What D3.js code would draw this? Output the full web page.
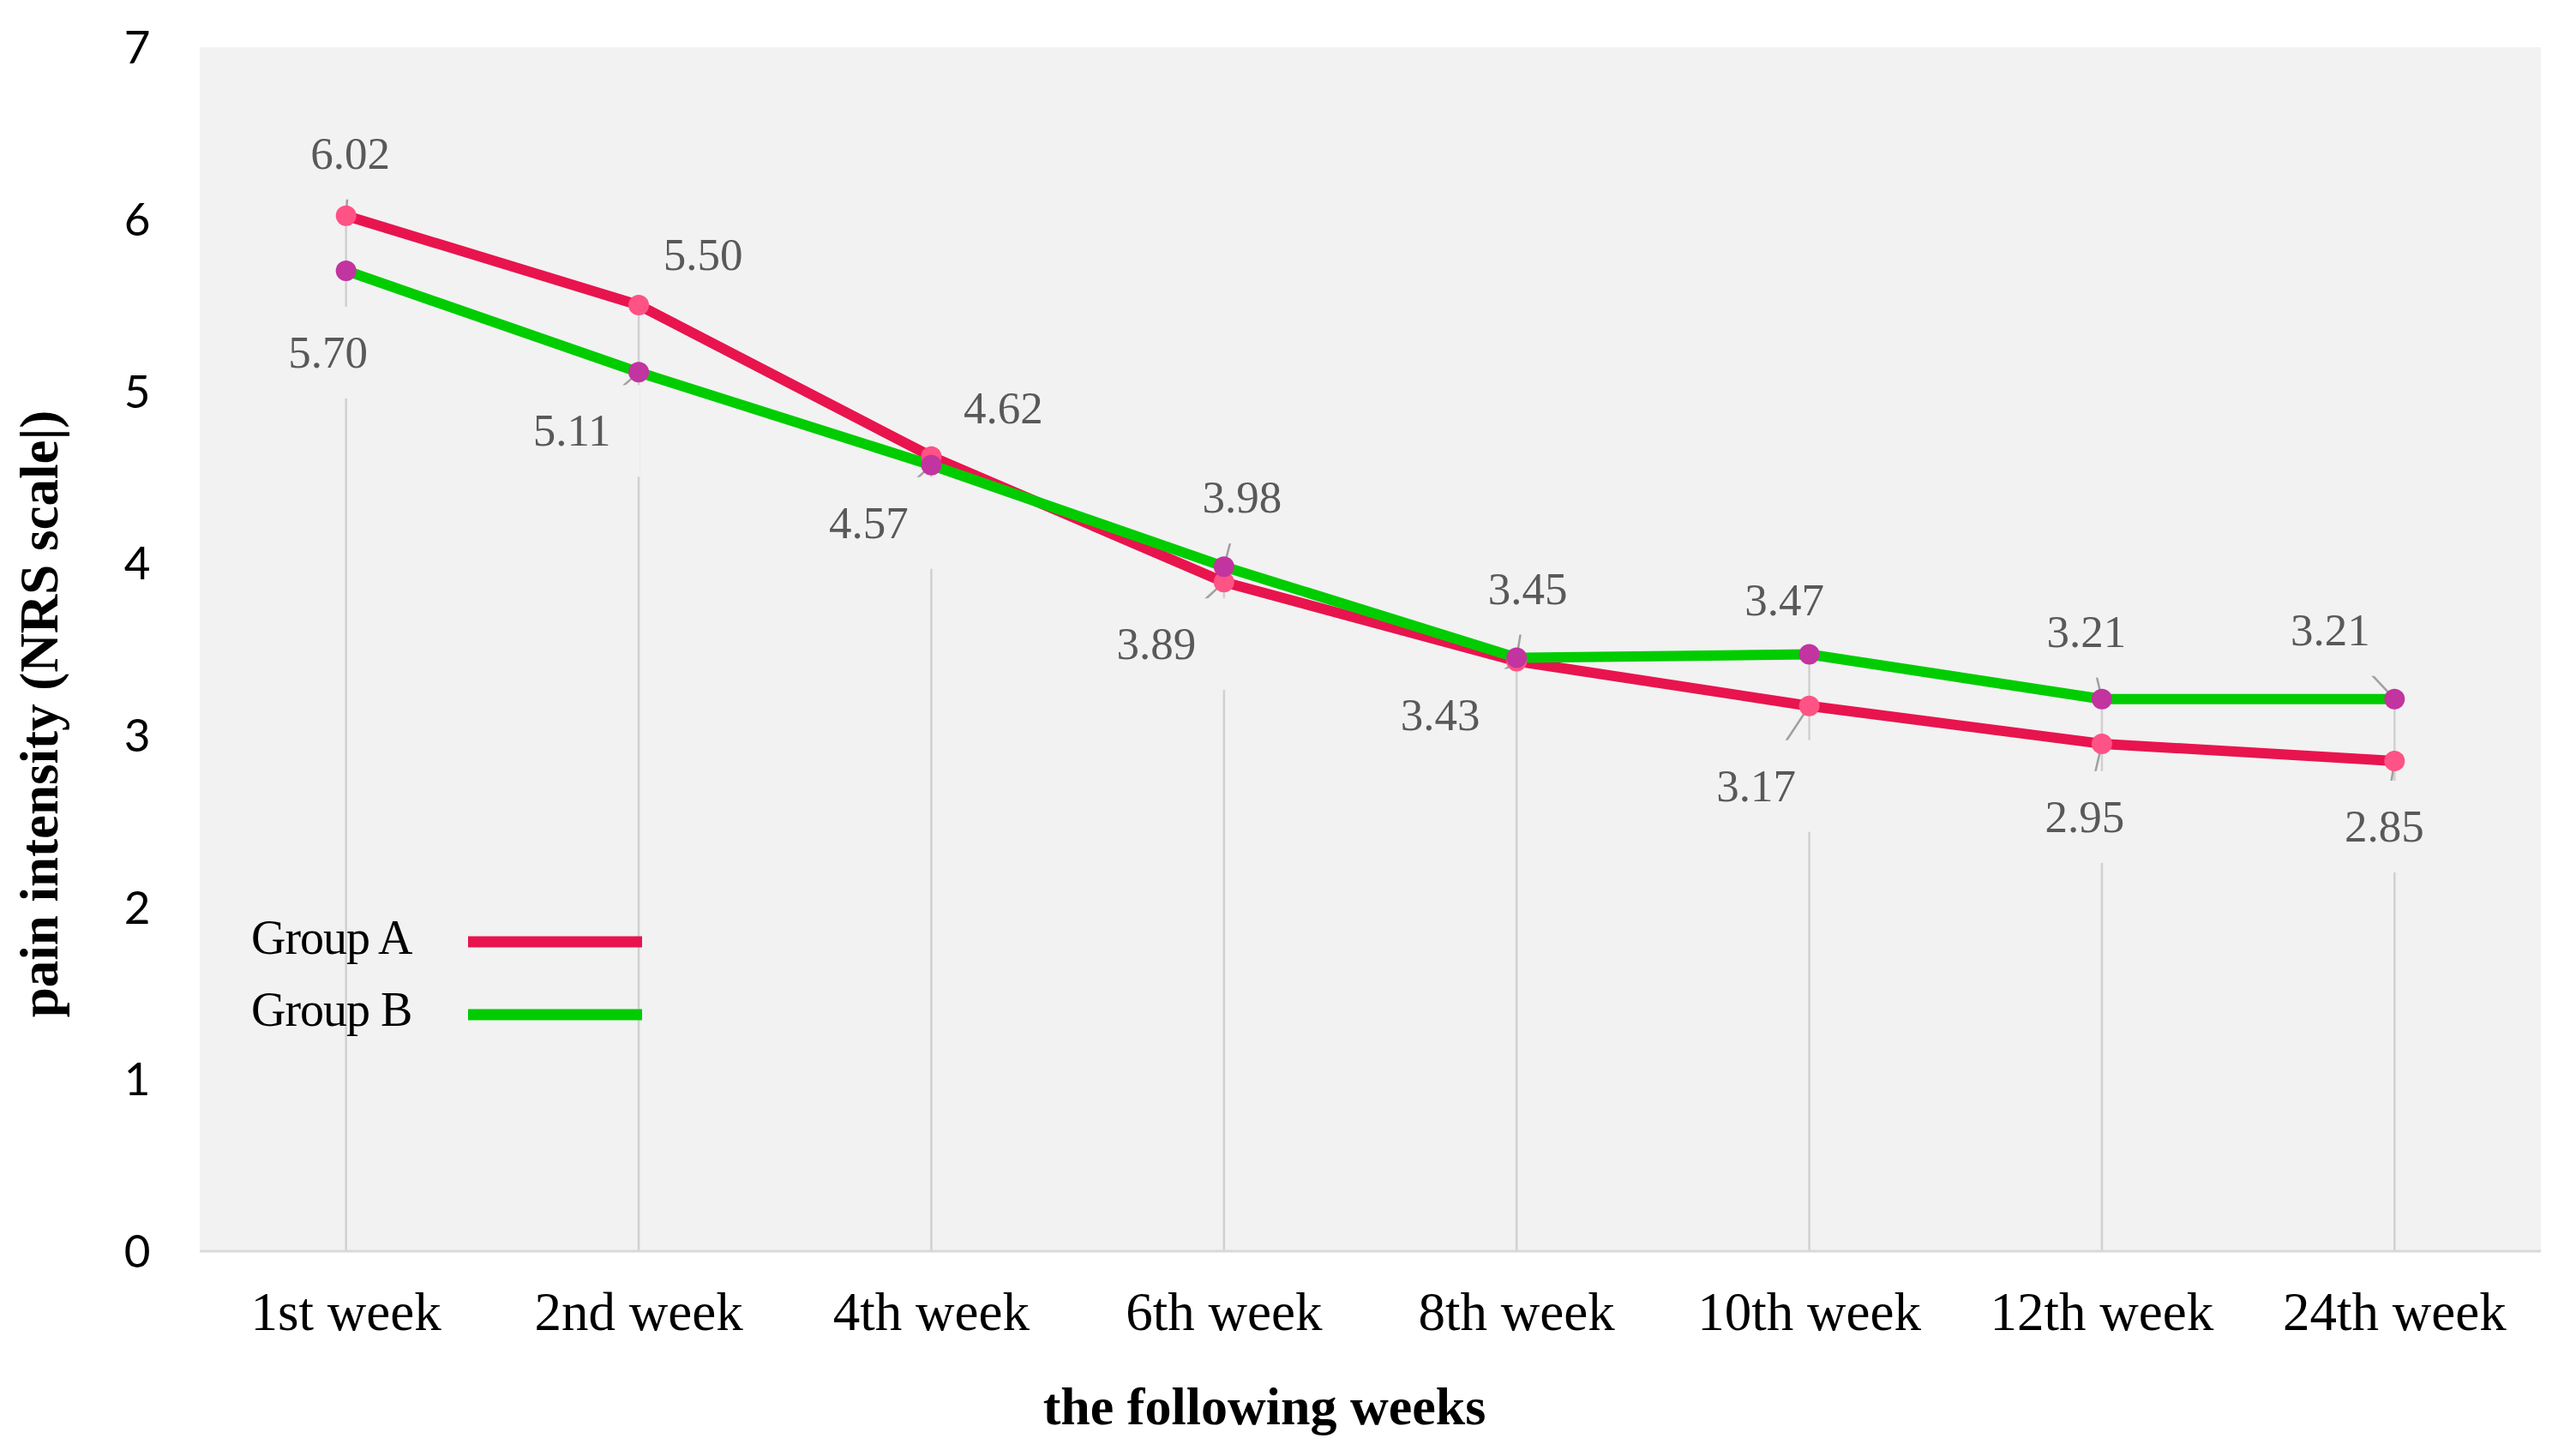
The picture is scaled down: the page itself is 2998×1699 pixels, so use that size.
<!DOCTYPE html>
<html>
<head>
<meta charset="utf-8">
<script src="https://cdn.jsdelivr.net/npm/d3@7"></script>
<style>
  html, body { margin: 0; padding: 0; background: #ffffff; }
  svg { display: block; }
</style>
</head>
<body>
<svg id="chart" width="2998" height="1699"></svg>
<script>
// ---------------- data ----------------
const categories = ["1st week", "2nd week", "4th week", "6th week", "8th week", "10th week", "12th week", "24th week"];
const groupA = [6.02, 5.50, 4.62, 3.89, 3.43, 3.17, 2.95, 2.85];
const groupB = [5.70, 5.11, 4.57, 3.98, 3.45, 3.47, 3.21, 3.21];
const yTicks = [0, 1, 2, 3, 4, 5, 6, 7];
const seriesNames = ["Group A", "Group B"];

// ---------------- layout / style ----------------
const W = 2998, H = 1699;
const plot = { left: 233, right: 2964, top: 55, bottom: 1460 };
const colors = { A: "#E8144E", B: "#00CC00" };
const markerColors = { A: "#FF5285", B: "#C2349F" };
// data-label baseline offsets from their points (layout only)
const labelOffsetA = [[5, -55], [75, -41], [84, -39], [-79, 90], [-89, 80], [-62, 111], [-20, 103], [-12, 94]];
const labelOffsetB = [[-21, 113], [-78, 86], [-73, 85], [21, -63], [13, -63], [-29, -46], [-18, -61], [-75, -63]];
// whether an Excel-style leader line is visible for a label
const leaderA = [true, true, true, true, true, true, true, true];
const leaderB = [false, true, true, true, true, true, true, true];

const svg = d3.select("#chart");

const x = d3.scalePoint().domain(categories).range([plot.left, plot.right]).padding(0.5);
const y = d3.scaleLinear().domain([0, 7]).range([plot.bottom, plot.top]);

// plot background
svg.append("rect")
  .attr("x", plot.left).attr("y", plot.top)
  .attr("width", plot.right - plot.left).attr("height", plot.bottom - plot.top)
  .attr("fill", "#F2F2F2");

// drop lines (from the highest point down to the axis)
const dropG = svg.append("g");
categories.forEach((c, i) => {
  dropG.append("line")
    .attr("x1", x(c)).attr("x2", x(c))
    .attr("y1", y(Math.max(groupA[i], groupB[i]))).attr("y2", y(0))
    .attr("stroke", "#D0D0D0").attr("stroke-width", 2.5);
});

// axis baseline
svg.append("line")
  .attr("x1", plot.left).attr("x2", plot.right)
  .attr("y1", y(0)).attr("y2", y(0))
  .attr("stroke", "#D9D9D9").attr("stroke-width", 3);

const leaderG = svg.append("g");
const rectG = svg.append("g");
const lineG = svg.append("g");
const markerG = svg.append("g");
const labelG = svg.append("g");

const series = [
  { key: "A", values: groupA, offsets: labelOffsetA, leaders: leaderA },
  { key: "B", values: groupB, offsets: labelOffsetB, leaders: leaderB }
];

const lineGen = d3.line().x((d, i) => x(categories[i])).y(d => y(d));

series.forEach(s => {
  lineG.append("path")
    .datum(s.values)
    .attr("d", lineGen)
    .attr("fill", "none")
    .attr("stroke", colors[s.key])
    .attr("stroke-width", 12)
    .attr("stroke-linejoin", "round")
    .attr("stroke-linecap", "round");

  markerG.selectAll(null).data(s.values).enter().append("circle")
    .attr("cx", (d, i) => x(categories[i]))
    .attr("cy", d => y(d))
    .attr("r", 12)
    .attr("fill", markerColors[s.key]);

  s.values.forEach((v, i) => {
    const px = x(categories[i]), py = y(v);
    const lx = px + s.offsets[i][0], ly = py + s.offsets[i][1];
    const t = labelG.append("text")
      .attr("x", lx).attr("y", ly)
      .attr("text-anchor", "middle")
      .attr("font-family", "'Liberation Serif', 'Times New Roman', serif")
      .attr("font-size", 53)
      .attr("fill", "#595959")
      .text(v.toFixed(2));
    const w = t.node().getComputedTextLength();
    rectG.append("rect")
      .attr("x", lx - w / 2 - 34).attr("y", ly - 71)
      .attr("width", w + 68).attr("height", 107)
      .attr("fill", "#F2F2F2");
    if (s.leaders[i]) {
      leaderG.append("line")
        .attr("x1", px).attr("y1", py)
        .attr("x2", lx).attr("y2", ly - 17)
        .attr("stroke", "#A0A0A0").attr("stroke-width", 2.5);
    }
  });
});

// y tick labels
svg.append("g").selectAll(null).data(yTicks).enter().append("text")
  .attr("x", 160).attr("y", d => y(d))
  .attr("dy", "0.36em")
  .attr("text-anchor", "middle")
  .attr("font-family", "Lato, 'Noto Sans', sans-serif")
  .attr("font-weight", 400)
  .attr("font-size", 53)
  .attr("fill", "#000000")
  .text(d => d);

// x tick labels
svg.append("g").selectAll(null).data(categories).enter().append("text")
  .attr("x", d => x(d)).attr("y", 1552)
  .attr("text-anchor", "middle")
  .attr("font-family", "'Liberation Serif', 'Times New Roman', serif")
  .attr("font-size", 63)
  .attr("fill", "#000000")
  .text(d => d);

// axis titles
svg.append("text")
  .attr("x", 1475).attr("y", 1662)
  .attr("text-anchor", "middle")
  .attr("font-family", "'Liberation Serif', 'Times New Roman', serif")
  .attr("font-weight", "bold")
  .attr("font-size", 62)
  .attr("fill", "#000000")
  .text("the following weeks");

svg.append("text")
  .attr("transform", "translate(67,833) rotate(-90)")
  .attr("text-anchor", "middle")
  .attr("font-family", "'Liberation Serif', 'Times New Roman', serif")
  .attr("font-weight", "bold")
  .attr("font-size", 63)
  .attr("fill", "#000000")
  .text("pain intensity (NRS scale|)");

// legend
const legend = svg.append("g");
const legendRows = [
  { name: seriesNames[0], color: colors.A, ty: 1113, ly: 1099 },
  { name: seriesNames[1], color: colors.B, ty: 1197, ly: 1184 }
];
legendRows.forEach(r => {
  legend.append("text")
    .attr("x", 293).attr("y", r.ty)
    .attr("font-family", "'Liberation Serif', 'Times New Roman', serif")
    .attr("font-size", 56)
    .attr("letter-spacing", -1)
    .attr("fill", "#000000")
    .text(r.name);
  legend.append("line")
    .attr("x1", 546).attr("x2", 749)
    .attr("y1", r.ly).attr("y2", r.ly)
    .attr("stroke", r.color).attr("stroke-width", 13);
});
</script>
</body>
</html>
